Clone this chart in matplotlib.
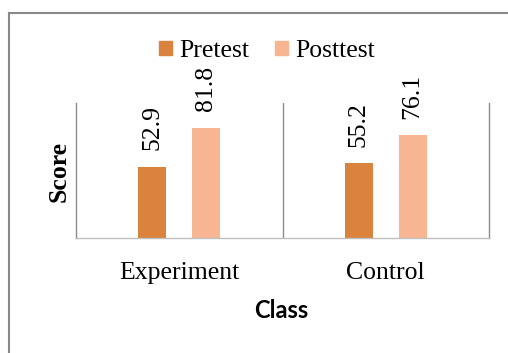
import matplotlib.pyplot as plt
from matplotlib.lines import Line2D
from matplotlib.patches import Patch

classes = ['Experiment', 'Control']
series = ['Pretest', 'Posttest']
pretest = [52.9, 55.2]
posttest = [81.8, 76.1]
colors = ['#D9833F', '#F8B592']

serif = ['Liberation Serif', 'DejaVu Serif']
plt.rcParams['font.family'] = serif

fig = plt.figure(figsize=(5.08, 3.53), dpi=100)
ax = fig.add_axes([76 / 508, 1 - 238 / 353, 413 / 508, 135 / 353])

x = list(range(len(classes)))
offset = 0.13
width = 0.135
for vals, off, col in [(pretest, -offset, colors[0]), (posttest, offset, colors[1])]:
    xs = [i + off for i in x]
    ax.bar(xs, vals, width=width, color=col)
    for xi, v in zip(xs, vals):
        ax.annotate(f'{v:.1f}', (xi, v), xytext=(0, 12), textcoords='offset points',
                    rotation=90, ha='center', va='bottom', fontsize=18.5, family=serif)

ax.set_xlim(-0.5, len(classes) - 0.5)
ax.set_ylim(0, 100)
ax.set_yticks([])
ax.set_xticks(x)
ax.set_xticklabels(classes, fontsize=18.5, family=serif)
ax.tick_params(axis='x', length=0, pad=17)

# excel-like frame: vertical gridlines between categories, light bottom axis
ax.spines['top'].set_visible(False)
for s in ['left', 'right']:
    ax.spines[s].set_color('#8C8C8C')
    ax.spines[s].set_linewidth(1.0)
ax.spines['bottom'].set_color('#BFBFBF')
ax.spines['bottom'].set_linewidth(1.0)
for i in range(len(classes) - 1):
    ax.axvline(i + 0.5, color='#8C8C8C', linewidth=1.0)

fig.text(59 / 508, 1 - 171 / 353, 'Score', rotation=90, ha='center', va='center',
         fontsize=18.5, fontweight='bold', family=serif)
fig.text(281 / 508, 1 - 311 / 353, 'Class', ha='center', va='center',
         fontsize=17, fontweight='bold', family=['Lato', 'DejaVu Sans'])

handles = [Patch(color=c) for c in colors]
fig.legend(handles, series, loc='center', bbox_to_anchor=(267 / 508, 1 - 51 / 353),
           ncol=2, frameon=False, prop={'family': serif, 'size': 18.5},
           handlelength=0.5, handleheight=0.5,
           handletextpad=0.3, columnspacing=1.0, borderpad=0)

# outer chart border (cropped on right and bottom)
bx, by = 8.5 / 508, 1 - 13 / 353
fig.add_artist(Line2D([bx, bx], [0, by], transform=fig.transFigure, color='#8A8A8A', linewidth=1.5))
fig.add_artist(Line2D([bx, 1], [by, by], transform=fig.transFigure, color='#8A8A8A', linewidth=1.5))

fig.savefig('out.png', dpi=100)
plt.close()
